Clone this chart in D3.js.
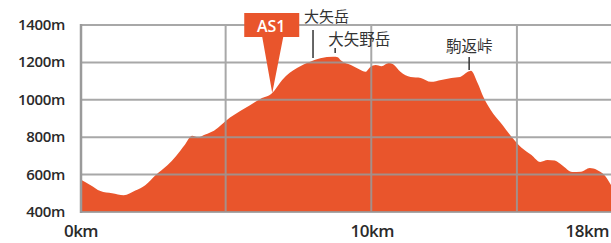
<!DOCTYPE html>
<html><head><meta charset="utf-8">
<script src="https://cdn.jsdelivr.net/npm/d3@7"></script>
<style>
body{margin:0;background:#fff;}
svg{display:block;}
</style></head>
<body>
<svg id="c" width="611" height="243"></svg>
<script>
// distance along course (km)
const distanceKm = [0,0.35,0.7,1.1,1.5,1.9,2.25,2.6,3.0,3.3,3.6,3.85,4.05,4.3,4.6,5.15,5.5,5.85,6.2,6.6,6.94,7.2,7.45,7.9,8.25,8.7,8.85,8.95,9.3,9.6,9.8,9.97,10.15,10.35,10.6,10.75,11.0,11.35,11.7,12.05,12.4,12.75,13.05,13.3,13.42,13.65,13.85,14.1,14.45,14.8,15.15,15.5,15.8,16.05,16.3,16.55,16.9,17.2,17.5,17.75,18.0,18.23];
// elevation (m)
const elevationM = [575,545,512,500,490,515,545,598,650,700,760,808,800,815,835,905,940,972,1005,1036,1106,1145,1170,1203,1222,1230,1228,1212,1186,1162,1150,1176,1186,1180,1197,1190,1150,1122,1117,1096,1106,1117,1122,1148,1155,1090,1015,946,876,805,745,705,668,678,675,650,614,615,635,625,598,545];
const yTicks = [400,600,800,1000,1200,1400];
const yTickLabels = ["400m","600m","800m","1000m","1200m","1400m"];
const xGridKm = [5,10,15];
const xTickKm = [0,10,18];
const xTickLabels = ["0km","10km","18km"];
const landmarkNames = ["大矢岳","大矢野岳","駒返峠"];
const landmarkKm = [8.0,8.76,13.36];
const aidName = "AS1";
const aidKm = 6.6;

const svg = d3.select("#c");
const x = d3.scaleLinear().domain([0,18.23]).range([80,611]);
const y = d3.scaleLinear().domain([400,1400]).range([212,25]);
const data = distanceKm.map((d,i)=>({k:d,e:elevationM[i]}));
const col = "#E9552C";

// area
svg.append("path").datum(data)
  .attr("fill",col)
  .attr("d",d3.area().x(d=>x(d.k)).y0(y(400)).y1(d=>y(d.e)).curve(d3.curveMonotoneX));

// grid
const g = svg.append("g").attr("stroke","#9a9a9a").attr("stroke-width",2).attr("opacity",0.85);
yTicks.forEach(v=>{
  g.append("line").attr("x1",x(0)).attr("x2",611).attr("y1",y(v)).attr("y2",y(v));
});
xGridKm.forEach(k=>{
  g.append("line").attr("x1",x(k)).attr("x2",x(k)).attr("y1",y(1400)).attr("y2",y(400));
});
svg.append("line").attr("x1",x(0)+1).attr("x2",x(0)+1).attr("y1",y(1400)-1).attr("y2",y(400)+1)
  .attr("stroke","#9a9a9a").attr("stroke-width",2.5);

// y labels
svg.append("g").selectAll("text").data(yTicks).join("text")
  .attr("x",65).attr("y",d=>y(d)+5)
  .attr("text-anchor","end")
  .attr("font-family","Open Sans, sans-serif").attr("font-weight",600)
  .attr("font-size",15).attr("fill","#2a2a2a").attr("letter-spacing",-0.3)
  .text((d,i)=>yTickLabels[i]);

// x labels
svg.append("g").selectAll("text").data(xTickKm).join("text")
  .attr("x",(d,i)=>i===xTickKm.length-1? 609 : x(d)+1)
  .attr("y",237)
  .attr("text-anchor",(d,i)=>i===xTickKm.length-1?"end":"middle")
  .attr("font-family","Open Sans, sans-serif").attr("font-weight",600)
  .attr("font-size",17).attr("fill","#2a2a2a").attr("letter-spacing",-0.5)
  .text((d,i)=>xTickLabels[i]);

// aid station callout
const elevAt = k => { const i = d3.bisectLeft(distanceKm,k); const a=data[Math.max(i-1,0)], b=data[Math.min(i,data.length-1)]; return b.k===a.k? a.e : a.e + (b.e-a.e)*(k-a.k)/(b.k-a.k); };
const ax = x(aidKm), ay = y(elevAt(aidKm));
svg.append("path").attr("fill",col)
  .attr("d",`M${ax-28},13 H${ax+27} V37 H${ax+11} L${ax},${ay} L${ax-10},37 H${ax-28} Z`);
svg.append("text").attr("x",ax-1).attr("y",32).attr("text-anchor","middle")
  .attr("font-family","Open Sans, sans-serif").attr("font-weight",600).attr("font-size",16)
  .attr("fill","#fff").text(aidName);

// landmarks
const lmFont = "Noto Sans CJK JP, sans-serif";
// 大矢岳
let lx = x(landmarkKm[0]);
svg.append("line").attr("x1",lx).attr("x2",lx).attr("y1",30).attr("y2",58).attr("stroke","#333").attr("stroke-width",1.5);
svg.append("text").attr("x",lx-9).attr("y",22).attr("font-family",lmFont).attr("font-size",15).attr("fill","#333").text(landmarkNames[0]);
// 大矢野岳
lx = x(landmarkKm[1]);
svg.append("line").attr("x1",lx).attr("x2",lx).attr("y1",48).attr("y2",53).attr("stroke","#333").attr("stroke-width",1.5);
svg.append("text").attr("x",lx-7).attr("y",45).attr("font-family",lmFont).attr("font-size",15.5).attr("fill","#333").text(landmarkNames[1]);
// 駒返峠
lx = x(landmarkKm[2]);
svg.append("line").attr("x1",lx).attr("x2",lx).attr("y1",57).attr("y2",70).attr("stroke","#333").attr("stroke-width",1.5);
svg.append("text").attr("x",lx).attr("y",52).attr("text-anchor","middle").attr("font-family",lmFont).attr("font-size",15.5).attr("fill","#333").text(landmarkNames[2]);
</script>
</body></html>
